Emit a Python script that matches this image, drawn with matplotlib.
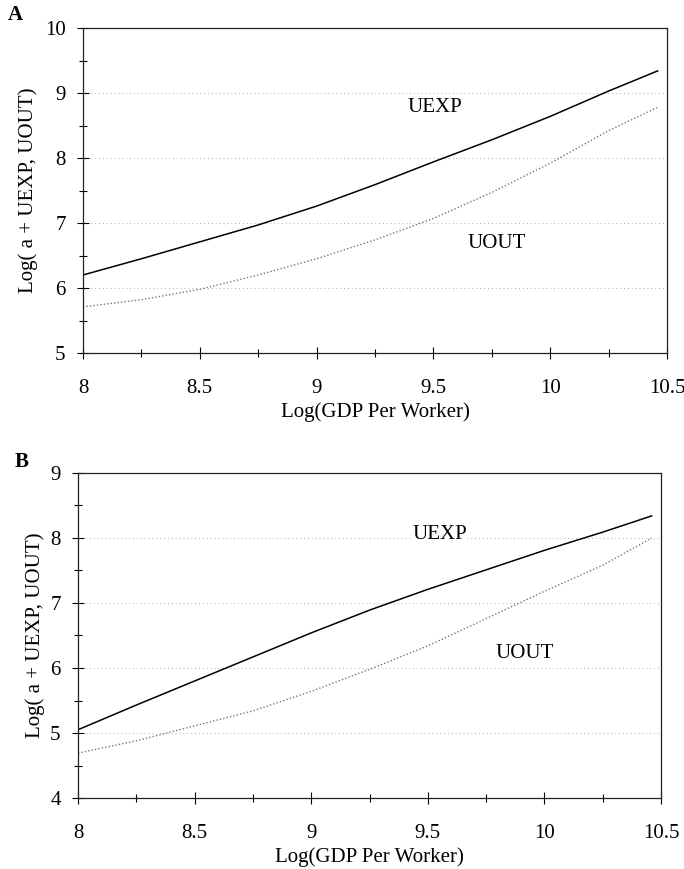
import matplotlib
matplotlib.use("Agg")
import matplotlib.pyplot as plt
from matplotlib.ticker import MultipleLocator, FixedLocator

plt.rcParams['font.family'] = ['Liberation Serif', 'DejaVu Serif']

# Data
x_vals = [8.0, 8.25, 8.5, 8.75, 9.0, 9.25, 9.5, 9.75, 10.0, 10.25, 10.46]
uexp_a = [6.20, 6.45, 6.71, 6.97, 7.26, 7.59, 7.94, 8.28, 8.64, 9.03, 9.34]
uout_a = [5.71, 5.82, 5.98, 6.20, 6.45, 6.74, 7.07, 7.47, 7.92, 8.42, 8.78]
uexp_b = [5.05, 5.43, 5.80, 6.17, 6.54, 6.89, 7.21, 7.51, 7.81, 8.09, 8.34]
uout_b = [4.69, 4.88, 5.11, 5.34, 5.64, 5.98, 6.34, 6.76, 7.18, 7.58, 8.00]

x_ticks = [8, 8.5, 9, 9.5, 10, 10.5]
x_ticklabels = ["8", "8.5", "9", "9.5", "10", "10.5"]
ylim_a = (5, 10)
ylim_b = (4, 9)
xlabel = "Log(GDP Per Worker)"
ylabel = "Log( a + UEXP, UOUT)"

W, H = 684, 869
fig = plt.figure(figsize=(W / 100, H / 100), dpi=100)


def make_axes(l, r, t, b):
    return fig.add_axes([l / W, 1 - b / H, (r - l) / W, (b - t) / H])


def style(ax, ylim, ylab_x):
    ax.set_xlim(8, 10.5)
    ax.set_ylim(*ylim)
    ax.xaxis.set_major_locator(FixedLocator(x_ticks))
    ax.set_xticklabels(x_ticklabels)
    ax.xaxis.set_minor_locator(MultipleLocator(0.25))
    ax.yaxis.set_major_locator(MultipleLocator(1))
    ax.yaxis.set_minor_locator(MultipleLocator(0.5))
    ax.tick_params(which='both', direction='inout', width=0.8, color='black',
                   labelsize=15, top=False, right=False)
    ax.tick_params(which='major', length=9)
    ax.tick_params(axis='x', which='major', pad=14)
    ax.tick_params(axis='y', which='major', pad=8)
    ax.tick_params(which='minor', length=6)
    for s in ax.spines.values():
        s.set_linewidth(0.9)
        s.set_color('#222222')
    for yv in range(int(ylim[0]) + 1, int(ylim[1])):
        ax.axhline(yv, color='#b0b0b0', lw=0.7, ls=(0, (1, 3)), zorder=0)
    ax.set_xlabel(xlabel, fontsize=15, labelpad=3)
    ax.set_ylabel(ylabel, fontsize=15)
    ax.yaxis.set_label_coords(ylab_x, 0.5)


# Panel A
axA = make_axes(83, 667, 28, 353)
style(axA, ylim_a, -0.077)
axA.plot(x_vals, uexp_a, color='black', lw=1.1)
axA.plot(x_vals, uout_a, color='#777777', lw=1.0, ls=(0, (1, 1.5)))
axA.text(9.507, 8.77, "UEXP", fontsize=15, ha='center', va='center')
axA.text(9.77, 6.69, "UOUT", fontsize=15, ha='center', va='center')

# Panel B
axB = make_axes(78, 661, 473, 798)
style(axB, ylim_b, -0.057)
axB.plot(x_vals, uexp_b, color='black', lw=1.1)
axB.plot(x_vals, uout_b, color='#777777', lw=1.0, ls=(0, (1, 1.5)))
axB.text(9.55, 8.05, "UEXP", fontsize=15, ha='center', va='center',
         bbox=dict(facecolor='white', edgecolor='none', pad=0.5))
axB.text(9.917, 6.23, "UOUT", fontsize=15, ha='center', va='center')

fig.text(15 / W, 1 - 15 / H, "A", fontsize=15, fontweight='bold',
         ha='center', va='center')
fig.text(22 / W, 1 - 462 / H, "B", fontsize=15, fontweight='bold',
         ha='center', va='center')

fig.savefig("out.png", dpi=100)
